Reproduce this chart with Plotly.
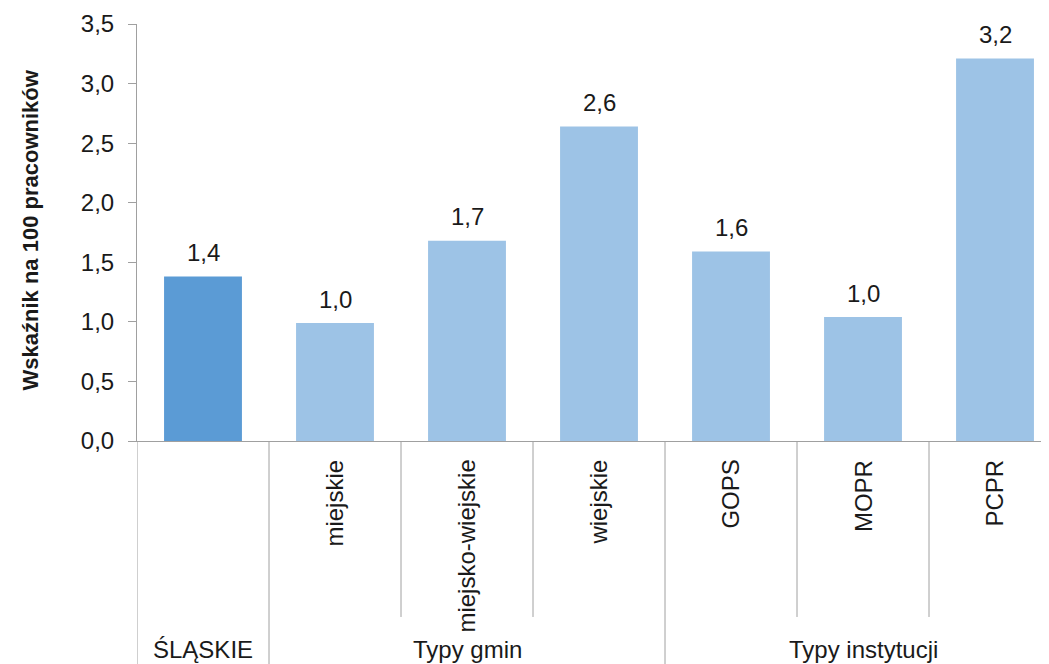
import plotly.graph_objects as go

categories = ["ŚLĄSKIE", "miejskie", "miejsko-wiejskie", "wiejskie", "GOPS", "MOPR", "PCPR"]
groups = ["ŚLĄSKIE", "Typy gmin", "Typy gmin", "Typy gmin", "Typy instytucji", "Typy instytucji", "Typy instytucji"]
values = [1.38, 0.99, 1.68, 2.64, 1.59, 1.04, 3.21]
y_ticks = [0, 0.5, 1.0, 1.5, 2.0, 2.5, 3.0, 3.5]
y_title = "Wskaźnik na 100 pracowników"

FONT = "Liberation Sans Narrow, Arial Narrow, Liberation Sans, sans-serif"
FS = 24
TXT = "#1a1a1a"
AX = "#a0a0a0"
colors = ["#5B9BD5"] + ["#9DC3E6"] * (len(categories) - 1)
xs = list(range(len(categories)))

fig = go.Figure()
fig.add_trace(go.Bar(x=xs, y=values, marker=dict(color=colors, line=dict(width=0)),
                     width=0.59, hoverinfo="skip"))

ann = []
for x, v in zip(xs, values):
    ann.append(dict(x=x, y=v, xref="x", yref="y", text=f"{v:.1f}".replace(".", ","),
                    showarrow=False, yanchor="middle", yshift=24,
                    font=dict(family=FONT, size=FS, color=TXT)))
for x, c, g in zip(xs, categories, groups):
    if c != g:
        ann.append(dict(x=x, y=-0.041, xref="x", yref="paper", text=c, textangle=-90,
                        showarrow=False, xanchor="center", yanchor="top",
                        font=dict(family=FONT, size=FS, color=TXT)))
seen = []
for g in groups:
    if g not in seen:
        seen.append(g)
for g in seen:
    idx = [i for i, gg in enumerate(groups) if gg == g]
    ann.append(dict(x=sum(idx) / len(idx), y=-0.462, xref="x", yref="paper", text=g,
                    showarrow=False, xanchor="center", yanchor="top",
                    font=dict(family=FONT, size=FS, color=TXT)))
ann.append(dict(x=-0.1173, y=0.505, xref="paper", yref="paper", text=f"<b>{y_title}</b>",
                textangle=-90, showarrow=False, xanchor="center", yanchor="middle",
                font=dict(family=FONT, size=22, color=TXT)))

shapes = []
for i in range(len(categories)):
    xb = i - 0.5
    full = (i == 0) or (groups[i] != groups[i - 1])
    shapes.append(dict(type="line", xref="x", yref="paper", x0=xb, x1=xb, y0=0,
                       y1=-0.54 if full else -0.422, line=dict(color=AX, width=1)))

fig.update_layout(
    width=1041, height=656,
    margin=dict(l=129, r=0, t=16, b=223),
    plot_bgcolor="white", paper_bgcolor="white",
    showlegend=False, separators=",.",
    xaxis=dict(range=[-0.5, 6.409], showticklabels=False, ticks="", showgrid=False,
               zeroline=False, showline=True, linecolor=AX, linewidth=1),
    yaxis=dict(range=[0, 3.5], tickvals=y_ticks, tickformat=".1f", ticks="outside",
               ticklen=8, tickcolor=AX, showgrid=False, zeroline=False, showline=True,
               linecolor=AX, linewidth=1, ticklabelstandoff=9,
               tickfont=dict(family=FONT, size=FS, color=TXT)),
    annotations=ann, shapes=shapes,
)
fig.write_html("out.html")
